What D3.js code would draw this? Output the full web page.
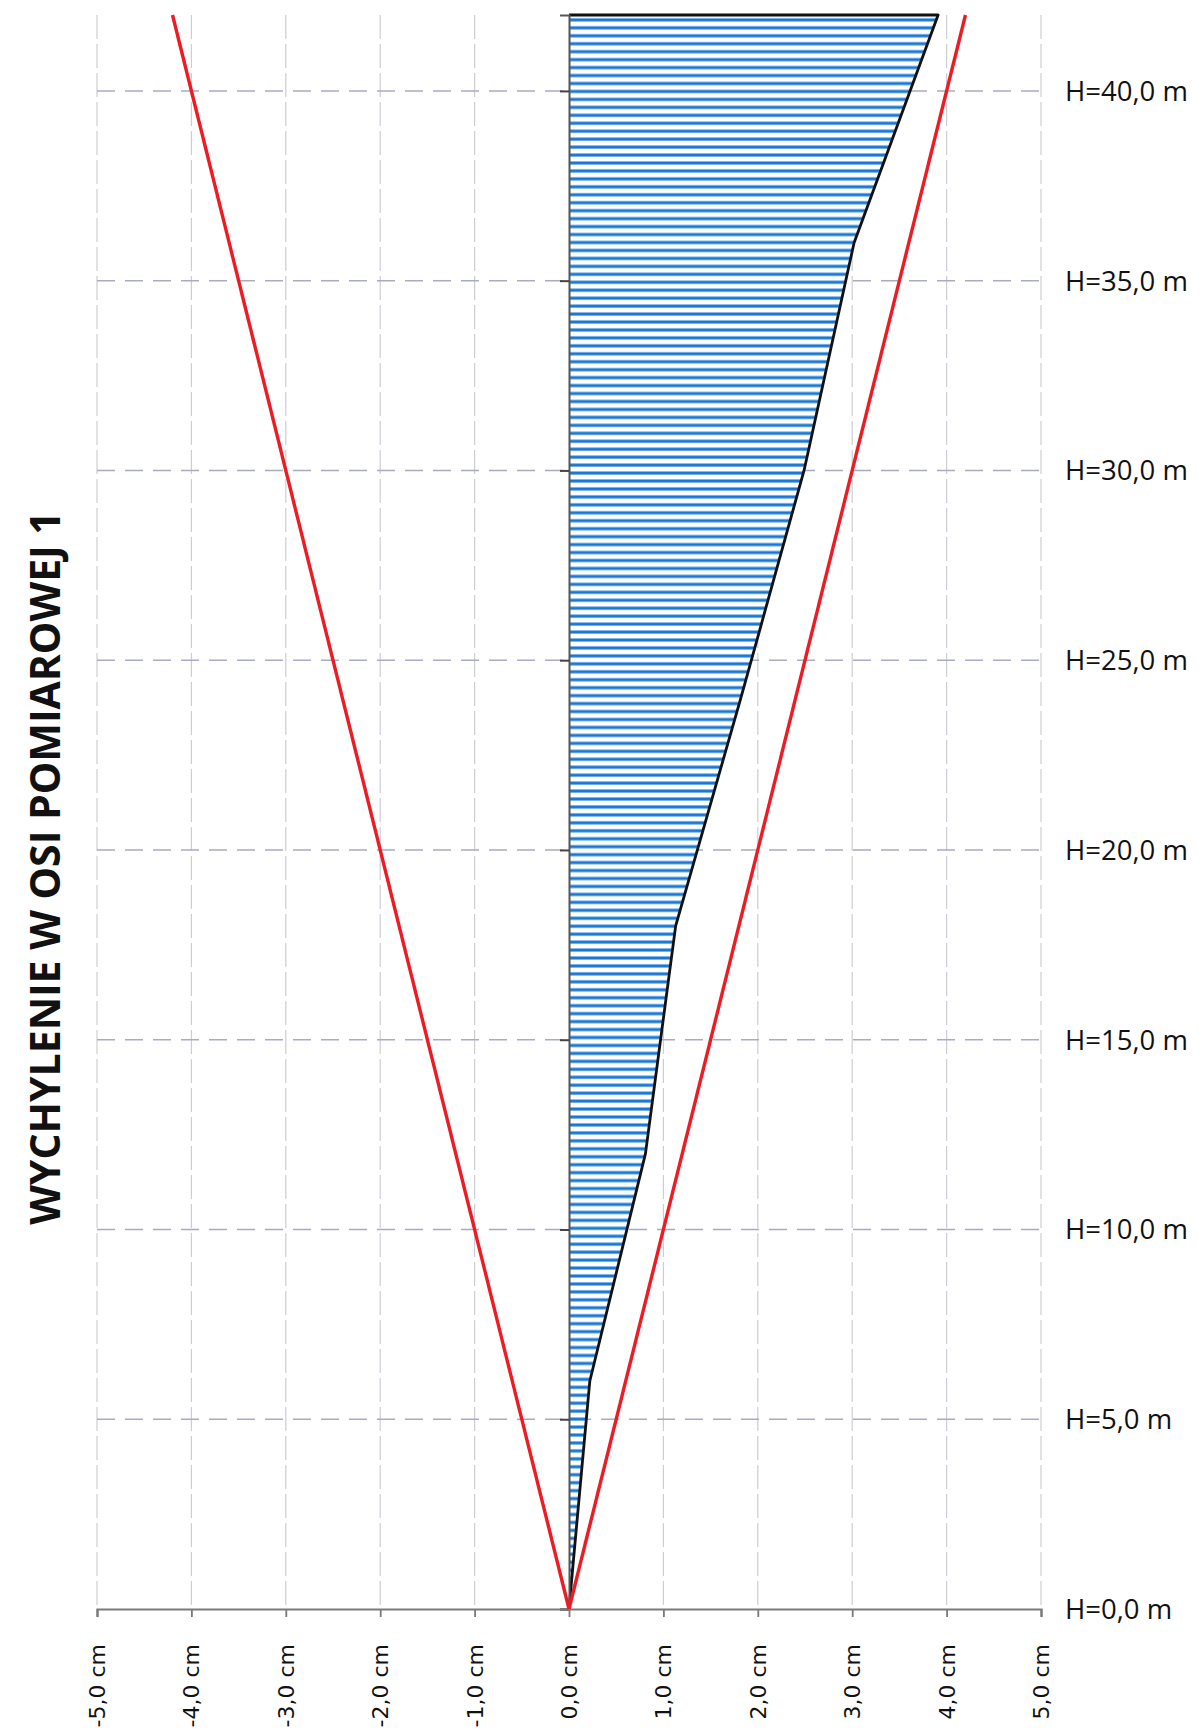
<!DOCTYPE html>
<html>
<head>
<meta charset="utf-8">
<script src="https://cdn.jsdelivr.net/npm/d3@7"></script>
<style>
  html, body { margin: 0; padding: 0; background: #fff; }
  svg { display: block; }
</style>
</head>
<body>
<div id="chart"></div>
<script>
// measured heights (m) and deviation in axis 1 (cm)
const heights = [0, 6, 12, 18, 24, 30, 36, 42]
const deviation = [0, 0.22, 0.81, 1.13, 1.82, 2.49, 3.02, 3.91]

// tolerance lines (red)
const tolHeights = [0, 42]
const tolLeft = [0, -4.2]
const tolRight = [0, 4.2]

const xTicks = [-5, -4, -3, -2, -1, 0, 1, 2, 3, 4, 5]
const xTickLabels = ['-5,0 cm', '-4,0 cm', '-3,0 cm', '-2,0 cm', '-1,0 cm', '0,0 cm', '1,0 cm', '2,0 cm', '3,0 cm', '4,0 cm', '5,0 cm']
const hTicks = [0, 5, 10, 15, 20, 25, 30, 35, 40]
const hTickLabels = ['H=0,0 m', 'H=5,0 m', 'H=10,0 m', 'H=15,0 m', 'H=20,0 m', 'H=25,0 m', 'H=30,0 m', 'H=35,0 m', 'H=40,0 m']

const title = 'WYCHYLENIE W OSI POMIAROWEJ 1'

const width = 1199
const height = 1734

const svg = d3.select('#chart')
    .append('svg')
    .attr('width', width)
    .attr('height', height)

const x = d3.scaleLinear().domain([-5, 5]).range([97, 1041])
const y = d3.scaleLinear().domain([0, 42]).range([1609, 15])

// hatch pattern for the deviation area
const defs = svg.append('defs')
const pat = defs.append('pattern')
    .attr('id', 'hatch')
    .attr('patternUnits', 'userSpaceOnUse')
    .attr('width', 16)
    .attr('height', 7.95)
pat.append('rect').attr('width', 16).attr('height', 7.95).attr('fill', '#fff')
pat.append('line')
    .attr('x1', 0).attr('x2', 16)
    .attr('y1', 4).attr('y2', 4)
    .attr('stroke', '#1878d6')
    .attr('stroke-width', 3.1)

// vertical grid
svg.append('g')
    .selectAll('line')
    .data(xTicks.filter(d => d !== 0))
    .enter()
    .append('line')
    .attr('x1', d => x(d)).attr('x2', d => x(d))
    .attr('y1', y(42)).attr('y2', y(0))
    .attr('stroke', '#cdcdd6')
    .attr('stroke-width', 1.2)
    .attr('stroke-dasharray', '24,5')

// horizontal grid
svg.append('g')
    .selectAll('line')
    .data(hTicks.filter(d => d !== 0))
    .enter()
    .append('line')
    .attr('x1', x(-5)).attr('x2', x(5))
    .attr('y1', d => y(d)).attr('y2', d => y(d))
    .attr('stroke', '#a9abc2')
    .attr('stroke-width', 1.5)
    .attr('stroke-dasharray', '18,10')

const pts = heights.map((h, i) => [deviation[i], h])

// hatched area
const area = d3.area()
    .x0(x(0))
    .x1(d => x(d[0]))
    .y(d => y(d[1]))
svg.append('path')
    .datum(pts)
    .attr('d', area)
    .attr('fill', 'url(#hatch)')

// outline: profile + top edge
const outline = pts.concat([[0, heights[heights.length - 1]]])
svg.append('path')
    .datum(outline)
    .attr('d', d3.line().x(d => x(d[0])).y(d => y(d[1])))
    .attr('fill', 'none')
    .attr('stroke', '#111')
    .attr('stroke-width', 2.8)
    .attr('stroke-linejoin', 'round')

// vertical axis at 0 with ticks
const yAxis = d3.axisLeft(y).tickValues(hTicks).tickSize(9).tickFormat('')
const yg = svg.append('g')
    .attr('transform', `translate(${x(0)},0)`)
    .call(yAxis)
yg.select('.domain').attr('stroke', '#555').attr('stroke-width', 2)
yg.selectAll('.tick line').attr('stroke', '#444').attr('stroke-width', 2)

// bottom axis
const xAxis = d3.axisBottom(x).tickValues(xTicks).tickSize(8).tickFormat('')
const xg = svg.append('g')
    .attr('transform', `translate(0,${y(0)})`)
    .call(xAxis)
xg.select('.domain').attr('stroke', '#7a7a7a').attr('stroke-width', 2.2)
xg.selectAll('.tick line').attr('stroke', '#7a7a7a').attr('stroke-width', 1.8)

// x labels, rotated
svg.append('g')
    .selectAll('text')
    .data(xTicks)
    .enter()
    .append('text')
    .attr('transform', d => `translate(${x(d) + 8},${y(0) + 35}) rotate(-90)`)
    .attr('text-anchor', 'end')
    .style('font-family', '"DejaVu Sans", Verdana, sans-serif')
    .style('font-size', '22px')
    .attr('fill', '#111')
    .text((d, i) => xTickLabels[i])

// red tolerance lines
const tolLine = d3.line().x(d => x(d[0])).y(d => y(d[1]))
;[tolLeft, tolRight].forEach(arr => {
    svg.append('path')
        .datum(tolHeights.map((h, i) => [arr[i], h]))
        .attr('d', tolLine)
        .attr('fill', 'none')
        .attr('stroke', '#ec1c24')
        .attr('stroke-width', 3.4)
})

// H labels on the right
svg.append('g')
    .selectAll('text')
    .data(hTicks)
    .enter()
    .append('text')
    .attr('x', x(5) + 24)
    .attr('y', d => y(d) + 10)
    .style('font-family', '"Open Sans", sans-serif')
    .style('font-size', '27.5px')
    .attr('fill', '#111')
    .text((d, i) => hTickLabels[i])

// title
svg.append('text')
    .attr('transform', 'translate(60,868) rotate(-90)')
    .attr('text-anchor', 'middle')
    .style('font-family', '"Open Sans", sans-serif')
    .style('font-weight', 'bold')
    .style('font-size', '41px')
    .attr('fill', '#111')
    .text(title)
</script>
</body>
</html>
